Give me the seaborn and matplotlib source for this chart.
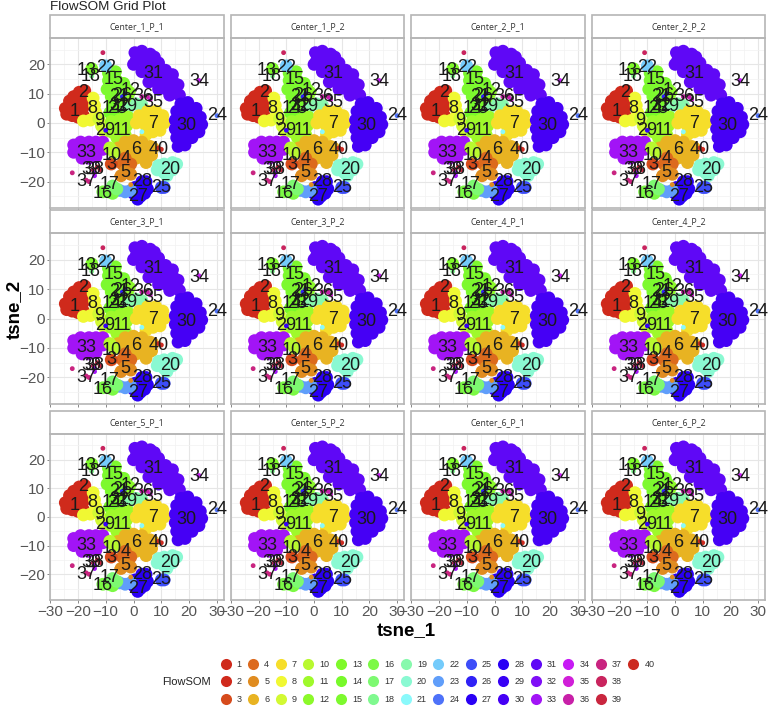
import matplotlib
matplotlib.use('Agg')
import matplotlib.pyplot as plt
from matplotlib.lines import Line2D
from matplotlib.patches import Rectangle
import pandas as pd
import seaborn as sns

samples = ['Center_1_P_1', 'Center_1_P_2', 'Center_2_P_1', 'Center_2_P_2',
           'Center_3_P_1', 'Center_3_P_2', 'Center_4_P_1', 'Center_4_P_2',
           'Center_5_P_1', 'Center_5_P_2', 'Center_6_P_1', 'Center_6_P_2']

colors = ['#CF2A1B', '#D02A1C', '#D64B1C', '#DC6A1E', '#E08C20', '#E8B322', '#F6DE2A', '#F0F833',
          '#D2F933', '#B8F92F', '#9FF92B', '#8CF92A', '#7FF92A', '#78F92A', '#7DF92E', '#7CF945',
          '#7DF971', '#80F98F', '#88F9AD', '#8AF9D2', '#8AF9FB', '#74CBFB', '#609EFA', '#4E72F9',
          '#3D4DF8', '#2F21F6', '#2A00F5', '#2A00F5', '#3700F5', '#4500F5', '#5F08F6', '#7F0FF6',
          '#A214F6', '#C71BF5', '#D01FD8', '#C820A8', '#C92480', '#C9245E', '#C9263F', '#CC2A20']

# cluster clouds
c1 = [(-24.5, 5), (-24, 3), (-22, 2.5), (-22, 5.5), (-20, 2), (-20, 4.5), (-18, 2.5), (-18, 5.5)]
c2 = [(-23, 7.5), (-21.5, 9), (-19.5, 7.5), (-19.5, 10.5), (-17.5, 8.5), (-17.5, 11)]
c8 = [(-14.5, 8.5), (-14, 6), (-13.5, 3.5), (-18, 0.7), (-15.5, 1)]
c9 = [(-12.5, 1.5), (-11.5, -1), (-10.5, -3)]
c15 = [(-9, 17), (-6.5, 17.5), (-9, 14.5), (-6, 14.5), (-3.5, 13.5), (-9.5, 11.5), (-7, 11.5), (-4.5, 11.5),
       (-2.5, 11.5), (-8, 9), (-5, 9)]
c14 = [(-7.5, 6), (-8.5, 3.5), (-5, 3.5), (-3, 6.5)]
c12 = [(-1.5, 10.5), (-2, 8)]
c19 = [(-2, 5), (1, 6.5), (3, 6)]
c11 = [(-8, 0.5), (-5, 1), (-2, 2), (-5.5, -2), (-2.5, -1), (-8, -3), (-6, -5), (-0.5, 0.5), (-3, -4)]
c7 = [(2, 2.5), (5, 4), (8, 4), (10.5, 2.5), (11, 0), (9.5, -2.5), (7, -3), (4.5, -1), (7, 1), (9, 0),
      (4, 1.5), (4.5, -4), (1, 0)]
c31 = [(0.5, 24), (3, 24.5), (6, 23.5), (7.5, 22.5), (1, 21.5), (0, 20), (3, 21.5), (6, 20), (9, 20.5), (3, 17.5),
       (6, 16.5), (9, 17.5), (11.5, 18), (14, 16.5), (5.5, 14), (8, 14), (11, 14.5), (14, 14.5), (16, 13),
       (9, 11.5), (12, 11.5), (15, 11.5), (16.5, 9.5), (13, 9.5)]
c30 = [(17, 6.5), (19.5, 7), (22.5, 5), (15.5, 4), (18, 4), (21, 4), (24, 2), (15, 1), (18, 1), (21, 1), (24.5, -0.5),
       (15, -2), (18, -2), (21, -2), (23.5, -3), (15.5, -5), (18, -5), (21, -5), (16, -8), (18.5, -7.5)]
c33 = [(-21.5, -7.5), (-21.5, -10), (-19, -6.5), (-19, -9), (-18.5, -12), (-16, -6.5), (-16, -9), (-16, -12),
       (-13.5, -6.5), (-13, -9), (-11, -6.5), (-13.5, -11.5), (-11, -9)]
c6 = [(-3, -6.5), (0, -6), (3, -6.5), (-5.5, -8.5), (-3, -9), (0, -9), (3, -9), (6, -8), (1, -12), (4, -12),
      (6.5, -11), (4.5, -13.5), (7, -8.5), (-0.5, -11)]
c4 = [(-3, -12), (-1, -14), (-4, -14)]
c5 = [(-3, -16.5), (-1, -17.5), (-4.5, -18)]
c3 = [(-8, -14)]
c10 = [(-7, -10), (-8.5, -8.5)]
c20 = [(8.5, -16), (9, -14.5), (11, -14), (11, -17), (14, -13.5), (14, -16), (15.5, -14), (12, -18)]
c25 = [(10, -22), (11, -22)]
c28 = [(3, -20), (3, -22.5), (0.5, -22), (4.5, -20), (5, -22.5)]
c27 = [(0, -24), (2.5, -25), (4, -24), (1.5, -26)]
c23 = [(-5, -23), (-3, -23.5), (-1, -23)]
c16 = [(-11, -23.5), (-9, -23.5), (-7.5, -24)]
c17 = [(-7.5, -21.5), (-6, -22.5)]
c13 = [(-15, 18.5)]
c22 = [(-10, 19.5)]

big_ids = [1, 2, 8, 9, 15, 14, 12, 19, 11, 7, 31, 30, 33, 6, 4, 5, 3, 10, 20, 25, 28, 27, 23, 16, 17, 13, 22]
big_pts = [c1, c2, c8, c9, c15, c14, c12, c19, c11, c7, c31, c30, c33, c6, c4, c5, c3, c10, c20, c25, c28,
           c27, c23, c16, c17, c13, c22]

# tiny clusters and strays
small_id = [34, 24, 36, 36, 26, 26, 29, 37, 37, 38, 39, 39, 40, 40, 18, 32, 35, 21, 37, 33, 38, 5, 5]
small_x = [23.5, 30, 3, 5, -4, -3, -10, -17, -16, -14.5, -13, -12, 9, 10, -15, -14, 6, 3, -22, -14, -11, -6, -1]
small_y = [14.5, 2.5, 9, 9, 9, 10, -2.5, -19.5, -20, -16, -15, -16, -8.5, -9, 16, -17, 8, -3, -17, -18, 24, -18, -21]

label_ids = list(range(1, 41))
label_x = [-21, -18, -8, -3, -3, 1, 7, -15, -12.5, -8, -4, -1, -17, -8, -7, -11, -8.5, -15.5, -2, 13,
           -5, -10, -6, 30, 10, -4, 1.5, 3, -10, 19, 7, -5, -17, 23.5, 7, 3.5, -17, -14, -15, 9]
label_y = [4, 10.5, -14, -12, -17, -9, -0.3, 5, 1, -11, -2.5, 11, 18, 5, 15, -24, -21, 16, 5.5, -16,
           9, 19, 5, 2.5, -22, 9.5, -25, -20, -2.5, -1, 17, 6, -10, 14, 7, 9, -20, -16, -16, -9]

ticks = [-30, -20, -10, 0, 10, 20, 30]
left_px = [50, 231, 411, 592]
right_px = [224, 404, 585, 765]
top_px = [38, 233, 434]
bottom_px = [208, 404, 600]
strip_h = 23

rows = []
for sample in samples:
    for cid, pts in zip(big_ids, big_pts):
        for px, py in pts:
            rows.append((sample, cid, px, py))
df = pd.DataFrame(rows, columns=['sample', 'cluster', 'x', 'y'])

rows = []
for sample in samples:
    for cid, px, py in zip(small_id, small_x, small_y):
        rows.append((sample, cid, px, py))
df_small = pd.DataFrame(rows, columns=['sample', 'cluster', 'x', 'y'])

palette = dict(zip(label_ids, colors))
sns.set_style('white')
plt.rcParams['font.family'] = ['Liberation Sans', 'DejaVu Sans']

W, H = 770, 708
g = sns.FacetGrid(df, col='sample', col_wrap=4, col_order=samples, sharex=True, sharey=True, height=2, aspect=1)
g.figure.set_size_inches(W / 100, H / 100)
g.figure.set_dpi(100)

for i, sample in enumerate(samples):
    ax = g.axes[i]
    r, c = divmod(i, 4)
    ax.set_position([left_px[c] / W, 1 - bottom_px[r] / H,
                     (right_px[c] - left_px[c]) / W, (bottom_px[r] - top_px[r]) / H])
    ax.set_title('')
    sns.scatterplot(data=df[df['sample'] == sample], x='x', y='y', hue='cluster', palette=palette,
                    s=85, linewidth=0, legend=False, ax=ax, zorder=3)
    sns.scatterplot(data=df_small[df_small['sample'] == sample], x='x', y='y', hue='cluster', palette=palette,
                    s=12, linewidth=0, legend=False, ax=ax, zorder=4)
    for lid, lx, ly in zip(label_ids, label_x, label_y):
        ax.text(lx, ly, str(lid), fontsize=13, color='#1a1a1a', ha='center', va='center', zorder=5)
    ax.set_xlim(-30, 32.5)
    ax.set_ylim(-29, 29)
    ax.set_xticks(ticks)
    ax.set_yticks([-20, -10, 0, 10, 20])
    ax.set_xticks([-25, -15, -5, 5, 15, 25], minor=True)
    ax.set_yticks([-25, -15, -5, 5, 15, 25], minor=True)
    ax.grid(True, which='major', color='#e6e6e6', linewidth=0.8, zorder=0)
    ax.grid(True, which='minor', color='#f2f2f2', linewidth=0.5, zorder=0)
    ax.set_axisbelow(True)
    ax.set_xlabel('')
    ax.set_ylabel('')
    ax.tick_params(axis='both', which='major', length=2, width=0.7, color='#888888',
                   labelsize=11, labelcolor='#555555', pad=1.5, bottom=True, left=(c == 0),
                   labelbottom=(r == 2), labelleft=(c == 0))
    ax.tick_params(axis='both', which='minor', length=0)
    for side in ax.spines.values():
        side.set_visible(True)
        side.set_color('#b5b5b5')
        side.set_linewidth(1.2)
    # facet strip above the panel
    h = strip_h / (bottom_px[r] - top_px[r])
    ax.add_patch(Rectangle((0, 1), 1, h, transform=ax.transAxes, clip_on=False,
                           facecolor='white', edgecolor='#b5b5b5', linewidth=1.2))
    ax.text(0.5, 1 + h / 2, sample, transform=ax.transAxes, fontsize=6.3, color='#333333',
            ha='center', va='center', family=['Open Sans', 'DejaVu Sans'])

g.figure.text(50 / W, 1 - 7 / H, 'FlowSOM Grid Plot', fontsize=9.7, color='#222222', ha='left', va='center')
g.figure.text(406 / W, 1 - 631 / H, 'tsne_1', fontsize=13.5, fontweight='bold', ha='center', va='center', color='black')
g.figure.text(14 / W, 1 - 309 / H, 'tsne_2', fontsize=13.5, fontweight='bold', rotation=90, ha='center', va='center', color='black')
g.figure.text(162 / W, 1 - 682 / H, 'FlowSOM', fontsize=8, color='#222222', ha='left', va='center')

handles = [Line2D([], [], linestyle='', marker='o', markersize=8, markerfacecolor=col, markeredgewidth=0,
                  label=str(lid)) for lid, col in zip(label_ids, colors)]
handles += [Line2D([], [], linestyle='', label=' ') for _ in range(2)]
g.figure.legend(handles=handles, ncol=14, loc='center left', bbox_to_anchor=(221 / W, 1 - 682 / H),
                frameon=False, fontsize=6.5, labelcolor='#333333', handlelength=1, handletextpad=0.75,
                columnspacing=0.74, labelspacing=0.95, borderpad=0, borderaxespad=0)

g.figure.savefig('out.png', dpi=100)
